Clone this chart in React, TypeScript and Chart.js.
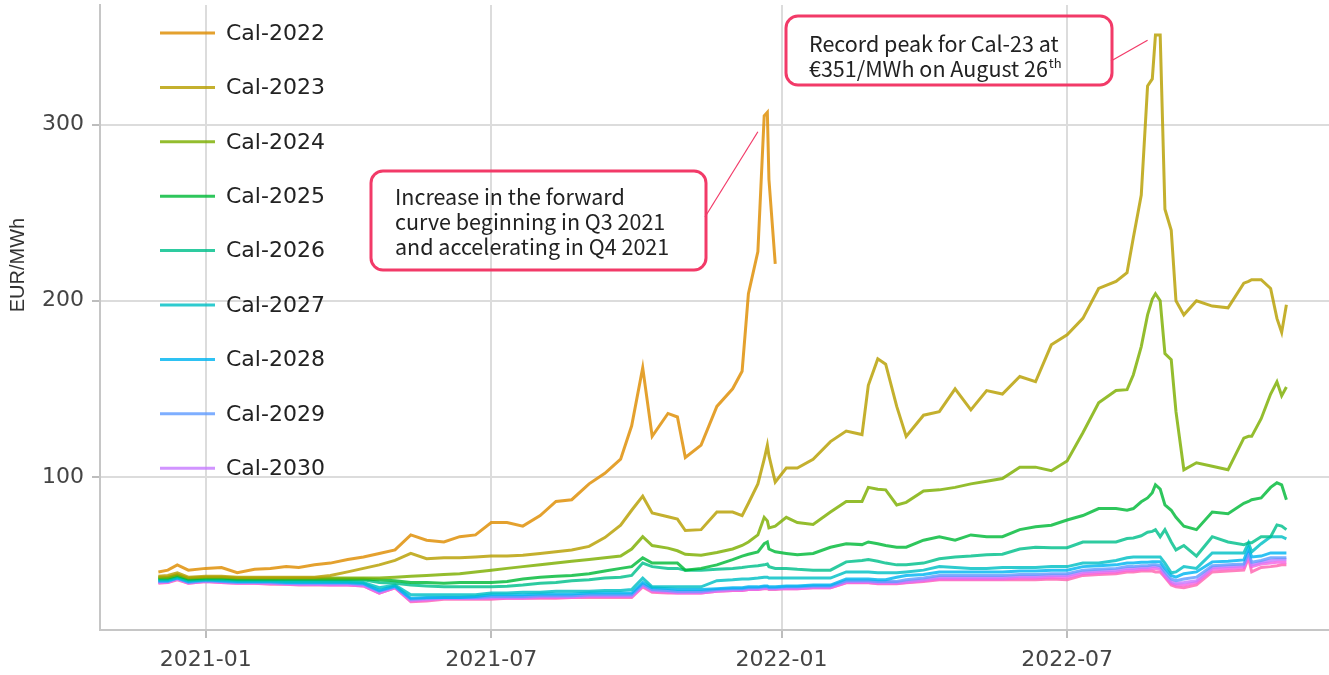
import { useEffect, useRef } from "react";
import { Chart, registerables } from "chart.js";

Chart.register(...registerables);

// ---------- DATA ----------
const dates = [
  "2020-12-02", "2020-12-08", "2020-12-14", "2020-12-21",
  "2021-01-01", "2021-01-11", "2021-01-21", "2021-02-01", "2021-02-11", "2021-02-21",
  "2021-03-01", "2021-03-11", "2021-03-21", "2021-04-01", "2021-04-11", "2021-04-21",
  "2021-05-01", "2021-05-11", "2021-05-21", "2021-06-01", "2021-06-11", "2021-06-21",
  "2021-07-01", "2021-07-11", "2021-07-21", "2021-08-01", "2021-08-11", "2021-08-21",
  "2021-09-01", "2021-09-11", "2021-09-21", "2021-09-28", "2021-10-05", "2021-10-11",
  "2021-10-21", "2021-10-27", "2021-11-01", "2021-11-11", "2021-11-21", "2021-12-01",
  "2021-12-07", "2021-12-11", "2021-12-17", "2021-12-21", "2021-12-23", "2021-12-24",
  "2021-12-28", "2022-01-04", "2022-01-11", "2022-01-21", "2022-02-01", "2022-02-11",
  "2022-02-21", "2022-02-25", "2022-03-03", "2022-03-08", "2022-03-15", "2022-03-21",
  "2022-04-01", "2022-04-11", "2022-04-21", "2022-05-01", "2022-05-11", "2022-05-21",
  "2022-06-01", "2022-06-11", "2022-06-21", "2022-07-01", "2022-07-11", "2022-07-21",
  "2022-08-01", "2022-08-08", "2022-08-12", "2022-08-17", "2022-08-21", "2022-08-24",
  "2022-08-26", "2022-08-29", "2022-09-01", "2022-09-05", "2022-09-08", "2022-09-13",
  "2022-09-21", "2022-10-01", "2022-10-11", "2022-10-21", "2022-10-24", "2022-10-26",
  "2022-11-01", "2022-11-07", "2022-11-11", "2022-11-14", "2022-11-17",
];

const cal2022 = [
  46, 47, 50, 47, 48, 48.5, 45.5, 47.5, 48, 49, 48.5, 50, 51, 53, 54.5, 56.5,
  58.5, 67, 64, 63, 66, 67, 74, 74, 72, 78, 86, 87, 96, 102, 110, 129,
  162, 123, 136, 134, 111, 118, 140, 150, 160, 204, 228, 305, 307, 269, 221,
  null, null, null, null, null, null, null, null, null, null, null, null, null, null, null,
  null, null, null, null, null, null, null, null, null, null, null, null, null, null, null,
  null, null, null, null, null, null, null, null, null, null, null, null, null, null, null,
  null,
];

const cal2023 = [
  43.5, 44, 45.5, 43, 43.5, 43.5, 43, 43, 43, 43, 43, 43, 44, 46, 48, 50,
  52.5, 56.5, 53.5, 54, 54, 54.5, 55, 55, 55.5, 56.5, 57.5, 58.5, 60.5, 65.5, 72.5, 81,
  89, 79.5, 77.3, 76, 69.5, 70, 80, 80, 78, 85, 96, 110, 118, 112, 97,
  105, 105, 110, 120, 126, 124, 152, 167, 164, 140, 123, 135, 137, 150, 138,
  149, 147, 157, 154, 175, 180.7, 190, 207, 211, 216, 236, 260, 322, 326, 351,
  351, 252, 240, 200, 192, 200, 197, 196, 210, 211, 212, 212, 207, 190, 182,
  197.7,
];

const cal2024 = [
  43, 43, 44.5, 42.5, 43, 43, 42.5, 42.5, 42.5, 42.5, 42.5, 42.5, 42.5, 42.5, 42.5, 42.5,
  43, 43.5, 44, 44.5, 45, 46, 47, 48, 49, 50, 51, 52, 53, 54, 55, 59,
  66, 61, 59.5, 58, 56, 55.5, 57, 59, 61, 63, 67, 77, 75, 71, 72,
  77, 74, 73, 80, 86, 86, 94, 93, 92.6, 84, 85.5, 92, 92.6, 94, 96,
  97.5, 99, 105.5, 105.5, 103.5, 109, 125, 142, 149, 149.5, 158, 174, 192, 201, 204,
  200, 170, 166.5, 137, 104, 108, 106, 104, 122, 123, 123, 133, 147, 154, 146,
  151,
];

const cal2025 = [
  42.5, 42.5, 44, 42, 42.5, 42.5, 42, 42, 42, 42, 42, 42, 42, 42, 42, 41.5,
  41, 40, 40, 39.5, 40, 40, 40, 40.5, 42, 43, 43.5, 44, 45, 46.5, 48, 49,
  54, 51, 51, 51, 47, 48, 50, 53, 55, 56, 57.4, 62, 63, 59, 57.4,
  56.5, 55.7, 56.5, 60, 62, 61.5, 63, 62, 61, 60, 60, 64, 66, 64, 67,
  66, 66, 70, 71.6, 72.5, 75.5, 78, 82, 82, 81, 82, 85.8, 88, 91, 95.5,
  93, 84, 81, 77, 72, 70, 80, 79, 85, 86, 87, 88, 94, 96.6, 95.5,
  87,
];

const cal2026 = [
  42, 42, 43.5, 41.5, 42, 42, 41.5, 41.5, 41.5, 41.5, 41.5, 41.5, 41.5, 41.5, 41.5, 40,
  39.5, 38.5, 38, 37.5, 37.5, 37.5, 37.5, 37.8, 38.5, 39.5, 40, 41, 41.5, 42.5, 43, 44,
  51, 49, 48, 48, 47, 47, 47.5, 48, 48.5, 49, 49.5, 50, 50.5, 49, 48,
  48, 47.5, 47, 47, 51.7, 52.5, 53, 52, 51, 50, 50, 51, 53.5, 54.5, 55,
  55.7, 56, 59, 60, 59.7, 59.7, 63, 63, 63, 65, 65.3, 66.5, 68.5, 69, 70,
  66, 70, 63, 58.5, 61, 55, 66, 63, 61.4, 62.5, 62.5, 66, 66, 72.7, 72,
  70,
];

const cal2027 = [
  41.5, 41.5, 43, 41, 41.5, 41.5, 41, 41, 41, 40.5, 40.5, 40.5, 40.5, 40.5, 40, 37,
  38.5, 33, 33, 33, 33, 33, 34, 34, 34.5, 34.5, 35, 35, 35, 35.5, 35.5, 36,
  42.5, 37.5, 37.5, 37.5, 37.5, 37.5, 41, 41.5, 42, 42, 42.5, 43, 43, 42.5, 42.5,
  42.5, 42.5, 42.5, 42.5, 46, 46, 46, 45.5, 45.5, 45.5, 46, 47, 49, 48.5, 48,
  48, 48.5, 48.5, 48.5, 49, 49, 51, 51, 52.5, 54, 54.5, 54.5, 54.5, 54.5, 54.5,
  54.5, 51, 45.5, 46, 49, 48, 56.8, 56.8, 56.8, 62.5, 57.4, 62, 66, 66, 66,
  64.8,
];

const cal2028 = [
  41, 41, 42.5, 40.5, 41.5, 41, 40.5, 40.5, 40.5, 40, 40, 40, 40, 40, 39.5, 35.5,
  38, 31, 31.5, 31.5, 31.5, 32, 33, 33, 33, 33.5, 33.5, 33.5, 34, 34, 34, 34,
  40, 37, 36.5, 36, 36, 36, 36.5, 37, 37, 37.5, 37.5, 38, 38, 37.5, 37.5,
  38, 38, 38.5, 38.5, 42, 42, 42, 41.5, 41.5, 43, 44, 44.5, 46, 46, 46,
  46, 46, 46.5, 46.5, 47, 47, 49, 49.5, 50, 51, 51, 51.5, 51.5, 51.7, 51.7,
  51.7, 48, 44, 43, 45, 46, 51.7, 52, 52.8, 59.7, 54.5, 55, 56.8, 56.8, 56.8,
  56.8,
];

const cal2029 = [
  40.5, 40.5, 42.5, 40, 41, 40.5, 40, 40, 40, 39.5, 39.5, 39.5, 39.5, 39.5, 39, 35,
  37.5, 30.5, 31, 31.5, 31.5, 31.5, 32, 32, 32, 32.5, 32.5, 32.5, 33, 33, 33, 33,
  39, 36, 35.5, 35, 35, 35, 36, 36.5, 36.5, 37, 37, 37.5, 37.5, 37, 37,
  37.5, 37.5, 38, 38, 41, 41, 41, 40.5, 40.5, 40.5, 41.5, 42.5, 44, 44, 44,
  44, 44, 44.5, 44.5, 45, 45, 47, 47.5, 48, 49, 49, 49.5, 49.5, 50, 50,
  49.5, 46, 42, 41, 42, 43, 49.5, 50, 50.5, 57, 51.5, 52.5, 54, 54, 54,
  54,
];

const cal2030 = [
  40, 40.5, 42, 40, 41, 40.5, 40, 40, 39.5, 39.5, 39, 39, 39, 39, 38.5, 34.5,
  37.5, 30, 30.5, 31, 31, 31, 31.5, 31.5, 31.5, 32, 32, 32, 32.5, 32.5, 32.5, 32.5,
  38.5, 35.5, 35, 34.5, 34.5, 34.5, 35.5, 36, 36, 36.5, 36.5, 37, 37, 36.5, 36.5,
  37, 37, 37.5, 37.5, 40.5, 40.5, 40.5, 40, 40, 40, 40.5, 41.5, 43, 43, 43,
  43, 43, 43.5, 43.5, 44, 44, 46, 46.5, 47, 48, 48, 48.5, 48.5, 49, 49,
  48.5, 44.5, 40.5, 39.5, 40, 41, 48.5, 49, 49.5, 56, 50, 51.5, 52.5, 53, 53,
  53,
];

const cal2031 = [
  40, 40, 42, 39.5, 40.5, 40, 39.5, 39.5, 39.5, 39, 39, 39, 38.5, 38.5, 38, 34,
  37, 29.5, 30, 31, 31, 31, 31, 31, 31, 31.5, 31.5, 31.5, 32, 32, 32, 32,
  38, 35, 34.5, 34, 34, 34, 35, 35.5, 35.5, 36, 36, 36.5, 37, 36.5, 36.5,
  36.5, 36.5, 37, 37, 40, 40, 40, 39.5, 39.5, 39.5, 40, 41, 42, 42, 42,
  42, 42, 42.5, 42.5, 43, 43, 45, 45.5, 46, 47, 47, 47.5, 47.5, 48, 48,
  47.5, 43.5, 39.5, 38.5, 38.5, 40, 47.5, 48, 48.5, 55, 49, 50.5, 51, 51.5, 51.5,
  51.5,
];

const cal2032 = [
  39.5, 40, 41.5, 39.5, 40.5, 40, 39.5, 39.5, 39, 39, 38.5, 38.5, 38.5, 38.5, 38, 34,
  37, 29, 29.5, 30.5, 30.5, 30.5, 30.5, 31, 31, 31, 31, 31.5, 31.5, 31.5, 31.5, 31.5,
  37.5, 34.5, 34, 34, 34, 34, 35, 35.5, 35.5, 36, 36, 36.5, 36.5, 36, 36,
  36.5, 36.5, 37, 37, 39.8, 39.8, 39.8, 39.3, 39.3, 39.3, 39.8, 40.5, 41.5, 41.5, 41.5,
  41.5, 41.5, 41.5, 41.5, 42, 41.5, 44, 44.5, 45, 46, 46, 46.5, 46.5, 46.5, 46,
  46, 43, 38.6, 37.5, 37, 38.6, 46, 46.5, 47, 54, 46, 48.5, 49, 49.5, 50, 50,
  50,
];

const seriesNames = [
  "Cal-2022", "Cal-2023", "Cal-2024", "Cal-2025", "Cal-2026", "Cal-2027",
  "Cal-2028", "Cal-2029", "Cal-2030", "Cal-2031", "Cal-2032",
];
const seriesValues = [
  cal2022, cal2023, cal2024, cal2025, cal2026, cal2027,
  cal2028, cal2029, cal2030, cal2031, cal2032,
];
const seriesColors = [
  "rgba(222,140,0,0.82)", "rgba(183,159,0,0.82)", "rgba(124,174,0,0.82)",
  "rgba(0,186,56,0.82)", "rgba(0,192,139,0.82)", "rgba(0,191,196,0.82)",
  "rgba(0,180,240,0.82)", "rgba(97,156,255,0.82)", "rgba(199,124,255,0.82)",
  "rgba(245,100,227,0.82)", "rgba(255,100,176,0.82)",
];
const legendCount = 9; // only the first nine entries fit in the legend

const xTickDates = ["2021-01-01", "2021-07-01", "2022-01-01", "2022-07-01"];
const xTickLabels = ["2021-01", "2021-07", "2022-01", "2022-07"];
const xRange = ["2020-10-26", "2022-12-14"];
const yTicks = [100, 200, 300];
const yRange = [13, 368];
const yTitle = "EUR/MWh";

const annotationTexts = [
  ["Increase in the forward", "curve beginning in Q3 2021", "and accelerating in Q4 2021"],
  ["Record peak for Cal-23 at", "€351/MWh on August 26"],
];
const annotationSup = ["", "th"];
const annotationTipDates = ["2021-12-17", "2022-08-21"];
const annotationTipValues = [296, 348];

// ---------- HELPERS ----------
const EPOCH = Date.UTC(2021, 0, 1);
function dayNum(s: string): number {
  const [y, m, d] = s.split("-").map(Number);
  return (Date.UTC(y, m - 1, d) - EPOCH) / 86400000;
}

const TICK_FONT = '"DejaVu Sans", Verdana, sans-serif';
const NOTE_FONT = '"Noto Sans CJK JP", "Noto Sans", sans-serif';
const NOTE_COLOR = "#f23a68";

// layout of the overlay elements (pixels)
const noteBoxes = [
  { x: 371, y: 171, w: 335, h: 99, tx: 395, ty: [197, 222, 247], fx: 705, fy: 217 },
  { x: 786, y: 16, w: 326, h: 69, tx: 809, ty: [44, 69], fx: 1111, fy: 61 },
];

function roundRect(ctx: CanvasRenderingContext2D, x: number, y: number, w: number, h: number, r: number) {
  ctx.beginPath();
  ctx.moveTo(x + r, y);
  ctx.lineTo(x + w - r, y);
  ctx.arcTo(x + w, y, x + w, y + r, r);
  ctx.lineTo(x + w, y + h - r);
  ctx.arcTo(x + w, y + h, x + w - r, y + h, r);
  ctx.lineTo(x + r, y + h);
  ctx.arcTo(x, y + h, x, y + h - r, r);
  ctx.lineTo(x, y + r);
  ctx.arcTo(x, y, x + r, y, r);
  ctx.closePath();
}

const overlayPlugin = {
  id: "overlay",
  afterDraw(chart: any) {
    const ctx: CanvasRenderingContext2D = chart.ctx;
    const xs = chart.scales.x;
    const ys = chart.scales.y;

    // y-axis title
    ctx.save();
    ctx.translate(18, 265);
    ctx.rotate(-Math.PI / 2);
    ctx.font = '20px "Liberation Sans", Arial, sans-serif';
    ctx.fillStyle = "#333";
    ctx.textAlign = "center";
    ctx.textBaseline = "middle";
    ctx.fillText(yTitle, 0, 0);
    ctx.restore();

    // legend inside plot area
    ctx.save();
    chart.data.datasets.slice(0, legendCount).forEach((ds: any, i: number) => {
      const y = 33 + i * 54.4;
      ctx.strokeStyle = ds.borderColor;
      ctx.lineWidth = 3;
      ctx.beginPath();
      ctx.moveTo(160, y);
      ctx.lineTo(215, y);
      ctx.stroke();
      ctx.font = "22px " + TICK_FONT;
      ctx.fillStyle = "#222";
      ctx.textAlign = "left";
      ctx.textBaseline = "middle";
      ctx.fillText(ds.label, 226, y + 1);
    });
    ctx.restore();

    // annotations
    ctx.save();
    noteBoxes.forEach((b, i) => {
      const tipX = xs.getPixelForValue(dayNum(annotationTipDates[i]));
      const tipY = ys.getPixelForValue(annotationTipValues[i]);
      ctx.strokeStyle = NOTE_COLOR;
      ctx.lineWidth = 1.2;
      ctx.beginPath();
      ctx.moveTo(b.fx, b.fy);
      ctx.lineTo(tipX, tipY);
      ctx.stroke();

      ctx.lineWidth = 3;
      roundRect(ctx, b.x, b.y, b.w, b.h, 12);
      ctx.stroke();

      ctx.fillStyle = "#222";
      ctx.textAlign = "left";
      ctx.textBaseline = "middle";
      const lines = annotationTexts[i];
      lines.forEach((t, j) => {
        ctx.font = "21.5px " + NOTE_FONT;
        ctx.fillText(t, b.tx, b.ty[j]);
        if (j === lines.length - 1 && annotationSup[i]) {
          const w = ctx.measureText(t).width;
          ctx.font = "13px " + NOTE_FONT;
          ctx.fillText(annotationSup[i], b.tx + w + 1, b.ty[j] - 6);
        }
      });
    });
    ctx.restore();
  },
};

export default function App() {
  const canvasRef = useRef<HTMLCanvasElement | null>(null);

  useEffect(() => {
    const canvas = canvasRef.current;
    if (!canvas) return;

    const datasets = seriesNames.map((name, k) => ({
      label: name,
      data: dates.map((d, i) => ({ x: dayNum(d), y: seriesValues[k][i] })),
      borderColor: seriesColors[k],
      backgroundColor: seriesColors[k],
      borderWidth: 3,
      pointRadius: 0,
      pointHoverRadius: 0,
      tension: 0,
      fill: false,
      spanGaps: false,
    }));

    const chart = new Chart(canvas, {
      type: "line",
      data: { datasets },
      options: {
        animation: false,
        responsive: false,
        devicePixelRatio: 1,
        events: [],
        layout: { padding: { top: 5, right: 0, bottom: 0, left: 0 } },
        plugins: {
          legend: { display: false },
          tooltip: { enabled: false },
          title: { display: false },
        },
        scales: {
          x: {
            type: "linear",
            min: dayNum(xRange[0]),
            max: dayNum(xRange[1]),
            afterBuildTicks: (scale: any) => {
              scale.ticks = xTickDates.map((d) => ({ value: dayNum(d) }));
            },
            afterFit: (scale: any) => {
              scale.height = 45;
              scale.paddingLeft = 0;
              scale.paddingRight = 0;
            },
            ticks: {
              autoSkip: false,
              maxRotation: 0,
              padding: 9,
              color: "#444",
              font: { family: TICK_FONT, size: 22 },
              callback: (v: any) => {
                const idx = xTickDates.findIndex((d) => dayNum(d) === v);
                return idx >= 0 ? xTickLabels[idx] : "";
              },
            },
            grid: {
              color: "#dcdcdc",
              lineWidth: 2,
              drawTicks: true,
              tickLength: 8,
              tickColor: "#bdbdbd",
              tickWidth: 2,
            },
            border: { display: true, color: "#c6c6c6", width: 2 },
          },
          y: {
            type: "linear",
            min: yRange[0],
            max: yRange[1],
            afterBuildTicks: (scale: any) => {
              scale.ticks = yTicks.map((v) => ({ value: v }));
            },
            afterFit: (scale: any) => {
              scale.width = 100;
              scale.paddingTop = 0;
              scale.paddingBottom = 0;
            },
            ticks: {
              padding: 8,
              color: "#444",
              font: { family: TICK_FONT, size: 22 },
            },
            grid: {
              color: "#dcdcdc",
              lineWidth: 2,
              drawTicks: true,
              tickLength: 8,
              tickColor: "#bdbdbd",
              tickWidth: 2,
            },
            border: { display: true, color: "#c6c6c6", width: 2 },
          },
        },
      },
      plugins: [overlayPlugin],
    } as any);

    return () => {
      chart.destroy();
    };
  }, []);

  return (
    <div style={{ position: "absolute", left: 0, top: 0, width: 1329, height: 675, background: "#fff" }}>
      <canvas ref={canvasRef} width={1329} height={675} style={{ width: 1329, height: 675, display: "block" }} />
    </div>
  );
}
